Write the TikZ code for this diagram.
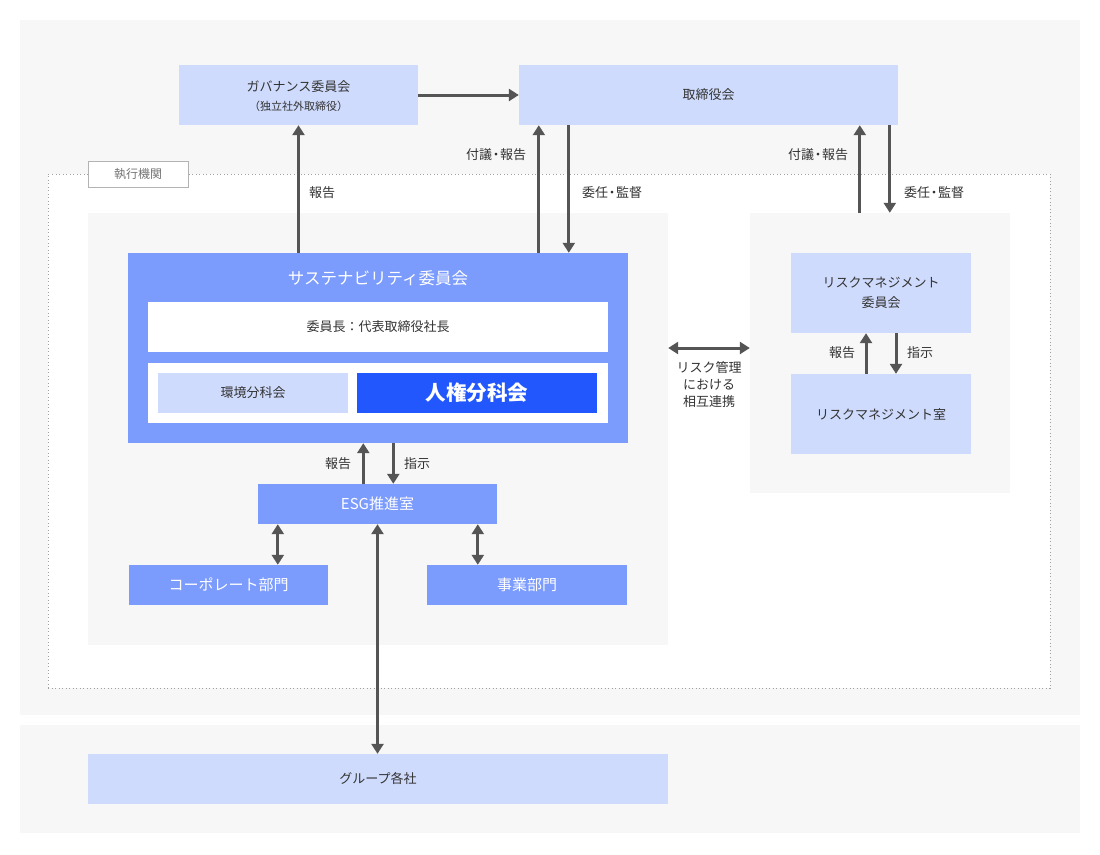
\documentclass[tikz,border=0pt]{standalone}
\usepackage{fontspec}
\setmainfont{Noto Sans CJK JP}
\usetikzlibrary{arrows.meta,calc}
\definecolor{bgg}{HTML}{F7F7F7}
\definecolor{lblue}{HTML}{CFDBFD}
\definecolor{mblue}{HTML}{7B9BFD}
\definecolor{dblue}{HTML}{2157FC}
\definecolor{arrc}{HTML}{555555}
\definecolor{txt}{HTML}{333333}
\definecolor{dotc}{HTML}{A0A0A0}
\newcommand{\ndot}{\kern-2.5pt・\kern-2.5pt}
\tikzset{
  panel/.style={fill=bgg, draw=none, inner sep=0pt},
  lbox/.style={fill=lblue, draw=none, inner sep=0pt, text=txt, font=\fontsize{13}{16}\selectfont, align=center},
  mbox/.style={fill=mblue, draw=none, inner sep=0pt, text=white, font=\fontsize{15}{18}\selectfont, align=center},
  wbox/.style={fill=white, draw=none, inner sep=0pt, text=txt, font=\fontsize{13}{16}\selectfont},
  lbl/.style={text=txt, font=\fontsize{13}{16}\selectfont, inner sep=0pt, align=center},
  arr/.style={draw=arrc, line width=3pt, -{Triangle[length=10pt,width=12pt]}},
  darr/.style={draw=arrc, line width=3pt, {Triangle[length=10pt,width=12pt]}-{Triangle[length=10pt,width=12pt]}},
}
\begin{document}
\begin{tikzpicture}[x=1pt,y=-1pt]
\useasboundingbox (0,0) rectangle (1100,854);
% backgrounds
\node[panel, minimum width=1060, minimum height=695] (bgtop) at (550,367.5) {};
\node[panel, minimum width=1060, minimum height=108] (bgbot) at (550,779) {};
\node[fill=white, draw=dotc, line width=1pt, dash pattern=on 1pt off 2.5pt, inner sep=0pt, minimum width=1002, minimum height=514] (exec) at (549,431) {};
\node[fill=white, draw=dotc!80, line width=1pt, inner sep=0pt, minimum width=100, minimum height=26, text=black!55, font=\fontsize{12}{14}\selectfont] (execlbl) at (138,174) {執行機関};
\node[panel, minimum width=580, minimum height=432] (lpanel) at (378,429) {};
\node[panel, minimum width=260, minimum height=280] (rpanel) at (880,353) {};
% top boxes
\node[lbox, minimum width=239, minimum height=60] (gov) at (298.5,95) {};
\node[lbox, fill=none, inner sep=0pt] (govtext) at (298.5,96) {ガバナンス委員会\\[3pt]{\fontsize{11}{14}\selectfont （独立社外取締役）}};
\node[lbox, minimum width=379, minimum height=60] (board) at (708.5,95) {取締役会};
% sustainability committee
\node[fill=mblue, inner sep=0pt, minimum width=500, minimum height=190] (sus) at (378,348) {};
\node[text=white, font=\fontsize{16.5}{20}\selectfont, inner sep=0pt] (sustitle) at (378,278) {サステナビリティ委員会};
\node[wbox, minimum width=460, minimum height=50] (chair) at (378,327) {委員長：代表取締役社長};
\node[wbox, minimum width=460, minimum height=60] (subs) at (378,393) {};
\node[lbox, minimum width=190, minimum height=40] (env) at (253,393) {環境分科会};
\node[fill=dblue, inner sep=0pt, minimum width=240, minimum height=40, text=white, font=\fontsize{20.5}{24}\selectfont\bfseries] (hr) at (477,393) {人権分科会};
% ESG
\node[mbox, minimum width=239, minimum height=40] (esg) at (377.5,504) {ESG推進室};
\node[mbox, minimum width=199, minimum height=40] (corp) at (228.5,585) {コーポレート部門};
\node[mbox, minimum width=200, minimum height=40] (biz) at (527,585) {事業部門};
% risk
\node[lbox, minimum width=180, minimum height=80] (rmc) at (881,293) {リスクマネジメント\\[4pt]委員会};
\node[lbox, minimum width=180, minimum height=80] (rmo) at (881,414) {リスクマネジメント室};
% group
\node[lbox, minimum width=580, minimum height=50] (grp) at (378,779) {グループ各社};

% connectors
\draw[arr] (sus.north -| gov.south) -- (gov.south);
\draw[arr] (gov.east) -- (board.west);
\coordinate (b1) at ($(board.south west)+(20,0)$);
\coordinate (b2) at ($(board.south west)+(50,0)$);
\draw[arr] (sus.north -| b1) -- (b1);
\draw[arr] (b2) -- (sus.north -| b2);
\coordinate (b3) at ($(board.south west)+(341,0)$);
\coordinate (b4) at ($(board.south west)+(371,0)$);
\draw[arr] (rpanel.north -| b3) -- (b3);
\draw[arr] (b4) -- (rpanel.north -| b4);
\coordinate (m1) at ($(lpanel.east)+(0,-81)$);
\draw[darr] (m1) -- (rpanel.west |- m1);
% sus <-> esg
\coordinate (s1) at ($(esg.north west)+(105.5,0)$);
\coordinate (s2) at ($(esg.north west)+(135.5,0)$);
\draw[arr] (s1) -- (sus.south -| s1);
\draw[arr] (sus.south -| s2) -- (s2);
% esg <-> depts
\coordinate (e1) at ($(esg.south west)+(20,0)$);
\coordinate (e2) at ($(esg.south west)+(220,0)$);
\draw[darr] (e1) -- (corp.north -| e1);
\draw[darr] (e2) -- (biz.north -| e2);
\draw[darr] (esg.south) -- (grp.north -| esg.south);
% risk internal
\coordinate (r1) at ($(rmo.north)+(-15,0)$);
\coordinate (r2) at ($(rmo.north)+(15,0)$);
\draw[arr] (r1) -- (rmc.south -| r1);
\draw[arr] (rmc.south -| r2) -- (r2);

% labels
\node[lbl] (t1) at (322,193) {報告};
\node[lbl] (t2) at (496,155) {付議\ndot 報告};
\node[lbl] (t3) at (612,193) {委任\ndot 監督};
\node[lbl] (t4) at (818,155) {付議\ndot 報告};
\node[lbl] (t5) at (934,193) {委任\ndot 監督};
\node[lbl, font=\fontsize{13}{17}\selectfont] (t6) at (709,385) {リスク管理\\における\\相互連携};
\node[lbl] (t7) at (338,464) {報告};
\node[lbl] (t8) at (417,464) {指示};
\node[lbl] (t9) at (842,353) {報告};
\node[lbl] (t10) at (920,353) {指示};
\end{tikzpicture}
\end{document}
